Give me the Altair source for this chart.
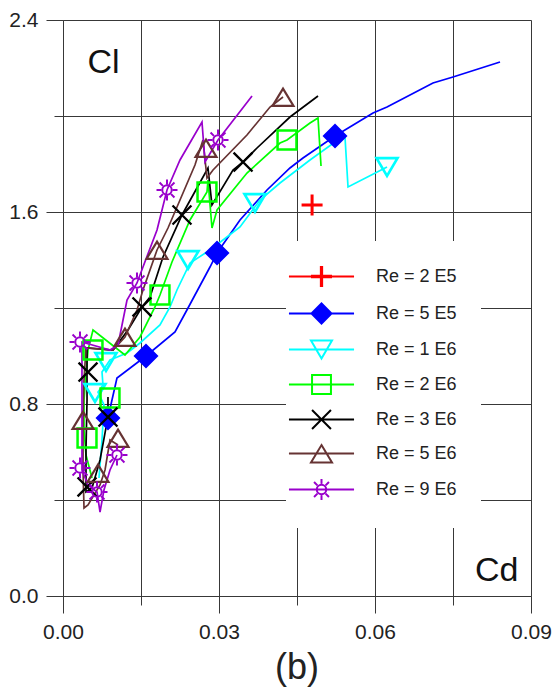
import altair as alt
import pandas as pd

SERIES = ["Re = 2 E5", "Re = 5 E5", "Re = 1 E6", "Re = 2 E6", "Re = 3 E6", "Re = 5 E6", "Re = 9 E6"]
COLORS = ["#FF0000", "#0000FF", "#00FFFF", "#00FF00", "#000000", "#663333", "#9900CC"]
FILLS = ["transparent", "#0000FF", "transparent", "transparent", "transparent", "transparent", "transparent"]
MARK_WIDTHS = [3, 2, 2, 2, 2, 2, 2]

X_GRID = [0.0, 0.015, 0.03, 0.045, 0.06, 0.075, 0.09]
X_LABELS = [0.0, 0.03, 0.06, 0.09]
Y_GRID = [0.0, 0.4, 0.8, 1.2, 1.6, 2.0, 2.4]
Y_LABELS = [0.0, 0.8, 1.6, 2.4]

# ---- Re = 2 E5 (only a marker) ----
RE2E5_MARK_CD = [0.0479]
RE2E5_MARK_CL = [1.629]

# ---- Re = 5 E5 ----
RE5E5_LINE_CD = [0.00865, 0.00942, 0.01038, 0.01596, 0.02154, 0.02404, 0.02827, 0.02962, 0.03404,
                 0.03923, 0.04365, 0.04615, 0.05231, 0.05962, 0.06231, 0.07115, 0.075, 0.08404]
RE5E5_LINE_CL = [0.7417, 0.8167, 0.9083, 1.0, 1.1, 1.2, 1.3708, 1.4292, 1.5667,
                 1.6917, 1.7833, 1.825, 1.9167, 2.0125, 2.0375, 2.1375, 2.1625, 2.225]
RE5E5_MARK_CD = [0.00865, 0.01596, 0.02962, 0.05231]
RE5E5_MARK_CL = [0.7417, 1.0, 1.4292, 1.9167]

# ---- Re = 1 E6 ----
RE1E6_LINE_CD = [0.00692, 0.0075, 0.00788, 0.00673, 0.00769, 0.0075, 0.00904, 0.01231, 0.01481, 0.01865,
                 0.02058, 0.02192, 0.02442, 0.02827, 0.03404, 0.03788, 0.04173, 0.0475, 0.05231, 0.05423,
                 0.05481, 0.06231]
RE1E6_LINE_CL = [0.4917, 0.65, 0.7958, 0.85, 0.8792, 0.9333, 0.9833, 1.0125, 1.0542, 1.1292,
                 1.2042, 1.275, 1.3875, 1.4417, 1.5375, 1.65, 1.7208, 1.8167, 1.8917, 1.9125,
                 1.7042, 1.7875]
RE1E6_MARK_CD = [0.00615, 0.00827, 0.02404, 0.03692, 0.06231]
RE1E6_MARK_CL = [0.8458, 0.975, 1.4, 1.6375, 1.7875]

# ---- Re = 2 E6 ----
RE2E6_LINE_CD = [0.00558, 0.00442, 0.00404, 0.00404, 0.00442, 0.00481, 0.00577, 0.01192, 0.01481, 0.01769,
                 0.01865, 0.02096, 0.02442, 0.02769, 0.02788, 0.02865, 0.02962, 0.03538, 0.04173, 0.04308,
                 0.0475, 0.04904, 0.04962]
RE2E6_LINE_CL = [0.4917, 0.5875, 0.6917, 0.8167, 0.9208, 1.025, 1.1083, 1.0042, 1.0792, 1.2042,
                 1.2542, 1.3917, 1.5667, 1.6833, 1.7333, 1.5333, 1.6083, 1.7625, 1.8875, 1.9,
                 1.9708, 1.9917, 1.7917]
RE2E6_MARK_CD = [0.00462, 0.00577, 0.00904, 0.01865, 0.02769, 0.04308]
RE2E6_MARK_CL = [0.6583, 1.025, 0.825, 1.2542, 1.6833, 1.9]

# ---- Re = 3 E6 ----
RE3E6_LINE_CD = [0.00865, 0.00865, 0.00712, 0.00558, 0.00442, 0.00442, 0.00462, 0.00462, 0.00962, 0.0125,
                 0.01519, 0.01673, 0.01923, 0.02288, 0.02788, 0.02865, 0.03269, 0.03462, 0.03731, 0.04365,
                 0.04904]
RE3E6_LINE_CL = [0.8292, 0.7458, 0.5667, 0.45, 0.4333, 0.6083, 0.8167, 1.0333, 1.025, 1.1083,
                 1.2042, 1.2458, 1.4125, 1.5875, 1.7833, 1.6292, 1.775, 1.8083, 1.8667, 1.9958,
                 2.0833]
RE3E6_MARK_CD = [0.00462, 0.00481, 0.00865, 0.01519, 0.02288, 0.03462]
RE3E6_MARK_CL = [0.4542, 0.9333, 0.7458, 1.2042, 1.5875, 1.8083]

# ---- Re = 5 E6 ----
RE5E6_LINE_CD = [0.01058, 0.00904, 0.00808, 0.00712, 0.00481, 0.00404, 0.00385, 0.00385, 0.00404, 0.00442,
                 0.00962, 0.01192, 0.01423, 0.01538, 0.01808, 0.02019, 0.0225, 0.02538, 0.02692, 0.02769,
                 0.02885, 0.03538, 0.03981, 0.04231]
RE5E6_LINE_CL = [0.6292, 0.65, 0.525, 0.4625, 0.3792, 0.3667, 0.525, 0.7333, 0.9, 1.0333,
                 1.025, 1.0792, 1.1917, 1.275, 1.4417, 1.5333, 1.65, 1.7958, 1.9, 1.7417,
                 1.775, 1.9208, 2.0375, 2.0792]
RE5E6_MARK_CD = [0.00385, 0.00673, 0.01058, 0.01192, 0.01808, 0.0275, 0.04231]
RE5E6_MARK_CL = [0.7333, 0.5125, 0.6583, 1.0792, 1.4417, 1.8667, 2.0792]

# ---- Re = 9 E6 ----
RE9E6_LINE_CD = [0.01038, 0.00904, 0.00788, 0.00712, 0.00654, 0.00481, 0.00365, 0.00365, 0.00365, 0.00365,
                 0.00904, 0.01058, 0.01135, 0.01231, 0.01423, 0.01538, 0.01808, 0.02, 0.0225, 0.02673,
                 0.02731, 0.02981, 0.03635]
RE9E6_LINE_CL = [0.5875, 0.525, 0.4417, 0.35, 0.4333, 0.4625, 0.525, 0.7333, 0.9417, 1.0583,
                 1.025, 1.0458, 1.1292, 1.2333, 1.3042, 1.3708, 1.525, 1.6917, 1.8167, 1.975,
                 1.8083, 1.9, 2.0833]
RE9E6_MARK_CD = [0.00327, 0.00327, 0.00654, 0.01038, 0.01423, 0.02, 0.02981]
RE9E6_MARK_CL = [1.0583, 0.5333, 0.4333, 0.5875, 1.3042, 1.6917, 1.9]

LINES = {
    "Re = 5 E5": (RE5E5_LINE_CD, RE5E5_LINE_CL),
    "Re = 1 E6": (RE1E6_LINE_CD, RE1E6_LINE_CL),
    "Re = 2 E6": (RE2E6_LINE_CD, RE2E6_LINE_CL),
    "Re = 3 E6": (RE3E6_LINE_CD, RE3E6_LINE_CL),
    "Re = 5 E6": (RE5E6_LINE_CD, RE5E6_LINE_CL),
    "Re = 9 E6": (RE9E6_LINE_CD, RE9E6_LINE_CL),
}
MARKS = {
    "Re = 2 E5": (RE2E5_MARK_CD, RE2E5_MARK_CL),
    "Re = 5 E5": (RE5E5_MARK_CD, RE5E5_MARK_CL),
    "Re = 1 E6": (RE1E6_MARK_CD, RE1E6_MARK_CL),
    "Re = 2 E6": (RE2E6_MARK_CD, RE2E6_MARK_CL),
    "Re = 3 E6": (RE3E6_MARK_CD, RE3E6_MARK_CL),
    "Re = 5 E6": (RE5E6_MARK_CD, RE5E6_MARK_CL),
    "Re = 9 E6": (RE9E6_MARK_CD, RE9E6_MARK_CL),
}

# marker symbols (unit-square SVG paths)
PLUS = "M-1,0H1M0,-1V1"
DIAMOND = "M-1,0L0,-1L1,0L0,1Z"
TRI_DOWN = "M-1,-0.85L1,-0.85L0,0.85Z"
SQUARE = "M-0.9,-0.9H0.9V0.9H-0.9Z"
CROSS = "M-0.9,-0.9L0.9,0.9M0.9,-0.9L-0.9,0.9"
TRI_UP = "M0,-0.8L1,0.85L-1,0.85Z"
SUN = ("M0.45,0A0.45,0.45,0,1,1,-0.45,0A0.45,0.45,0,1,1,0.45,0Z"
       "M0.55,0H1M-0.55,0H-1M0,0.55V1M0,-0.55V-1"
       "M0.39,0.39L0.71,0.71M-0.39,-0.39L-0.71,-0.71M0.39,-0.39L0.71,-0.71M-0.39,0.39L-0.71,0.71")
SHAPES = [PLUS, DIAMOND, TRI_DOWN, SQUARE, CROSS, TRI_UP, SUN]

# legend symbols: line through marker; the legend diamond is solid (nested outlines)
LEG_LINE = "M-3.1,0H3.1"
SOLID_DIAMOND = "".join(
    "M-{0},0L0,-{0}L{0},0L0,{0}Z".format(k) for k in ["0.95", "0.8", "0.65", "0.5", "0.35", "0.2", "0.08"]
)
THICK_PLUS = "M-1,-0.06H1M-1,0.06H1M-0.06,-1V1M0.06,-1V1"
LEGEND_SHAPES = [LEG_LINE + s for s in [THICK_PLUS, SOLID_DIAMOND, TRI_DOWN, SQUARE, CROSS, TRI_UP, SUN]]

line_rows = []
for s, (cds, cls) in LINES.items():
    for i, (cd, cl) in enumerate(zip(cds, cls)):
        line_rows.append({"series": s, "i": i, "cd": cd, "cl": cl})
mark_rows = []
for s, (cds, cls) in MARKS.items():
    for cd, cl in zip(cds, cls):
        mark_rows.append({"series": s, "cd": cd, "cl": cl})
legend_rows = [{"series": s, "cd": MARKS[s][0][0], "cl": MARKS[s][1][0]} for s in SERIES]

lines_df = pd.DataFrame(line_rows)
marks_df = pd.DataFrame(mark_rows)
legend_df = pd.DataFrame(legend_rows)

FONT = "Liberation Sans"
xscale = alt.Scale(domain=[0, 0.09], nice=False, zero=False)
yscale = alt.Scale(domain=[0, 2.4], nice=False, zero=False)


def color_scale():
    return alt.Scale(domain=SERIES, range=COLORS)


lines = alt.Chart(lines_df).mark_line(strokeWidth=1.7).encode(
    x=alt.X("cd:Q", scale=xscale,
            axis=alt.Axis(values=X_GRID, tickSize=9, labels=False, grid=True, gridColor="#383838",
                          gridWidth=1, tickColor="#383838", domain=False, title=None, orient="bottom")),
    y=alt.Y("cl:Q", scale=yscale,
            axis=alt.Axis(values=Y_GRID, tickSize=9, labels=False, grid=True, gridColor="#383838",
                          gridWidth=1, tickColor="#383838", domain=False, title=None, orient="left")),
    color=alt.Color("series:N", scale=color_scale(), legend=None),
    detail="series:N",
    order=alt.Order("i:Q"),
)

marks = alt.Chart(marks_df).mark_point(size=441, opacity=1).encode(
    x=alt.X("cd:Q", scale=xscale,
            axis=alt.Axis(values=X_LABELS, format=".2f", tickSize=17, grid=False, domain=False,
                          tickColor="#383838", labelFontSize=21, labelPadding=8, labelColor="#222222",
                          labelFont=FONT, labelFlush=False, labelOverlap=False, orient="bottom",
                          title="Cd", titleFontSize=34, titleFontWeight="normal", titleFont=FONT,
                          titleColor="#111111", titleX=455, titleY=-16, titleAlign="right",
                          titleBaseline="alphabetic")),
    y=alt.Y("cl:Q", scale=yscale,
            axis=alt.Axis(values=Y_LABELS, format=".1f", tickSize=17, grid=False, domain=False,
                          tickColor="#383838", labelFontSize=21, labelPadding=8, labelColor="#222222",
                          labelFont=FONT, labelFlush=False, labelOverlap=False, orient="left",
                          title="Cl", titleFontSize=34, titleFontWeight="normal", titleFont=FONT,
                          titleColor="#111111", titleAngle=0, titleX=24, titleY=52, titleAlign="left",
                          titleBaseline="alphabetic")),
    color=alt.Color("series:N", scale=color_scale(), legend=None),
    shape=alt.Shape("series:N", scale=alt.Scale(domain=SERIES, range=SHAPES), legend=None),
    fill=alt.Fill("series:N", scale=alt.Scale(domain=SERIES, range=FILLS), legend=None),
    strokeWidth=alt.StrokeWidth("series:N", scale=alt.Scale(domain=SERIES, range=MARK_WIDTHS), legend=None),
)

leg = alt.Legend(orient="none", legendX=223, legendY=221, title=None, fillColor="white", padding=24,
                 labelFontSize=18, labelFont=FONT, labelColor="#222222", labelOffset=43,
                 symbolSize=441, symbolStrokeWidth=2, rowPadding=8, symbolOpacity=1)

legend_layer = alt.Chart(legend_df).transform_filter("false").mark_point(
    size=441, strokeWidth=2, opacity=1, filled=False
).encode(
    x=alt.X("cd:Q", scale=xscale, axis=None),
    y=alt.Y("cl:Q", scale=yscale, axis=None),
    color=alt.Color("series:N", scale=color_scale(), legend=leg),
    shape=alt.Shape("series:N", scale=alt.Scale(domain=SERIES, range=LEGEND_SHAPES), legend=leg),
)

chart = alt.layer(lines, marks, legend_layer).resolve_scale(
    color="independent", shape="independent", fill="independent", strokeWidth="independent"
).resolve_axis(
    x="independent", y="independent"
).properties(
    width=468, height=576,
    autosize=alt.AutoSizeParams(type="none"),
    padding={"left": 63, "top": 20, "right": 26, "bottom": 94},
    title=alt.TitleParams("(b)", orient="bottom", fontSize=36, font=FONT, fontWeight="normal",
                          offset=9, anchor="middle", color="#222222"),
).configure_view(stroke="black", strokeWidth=1.2).configure(background="white")

chart.save("out.html", embed_options={"renderer": "svg", "actions": False})
